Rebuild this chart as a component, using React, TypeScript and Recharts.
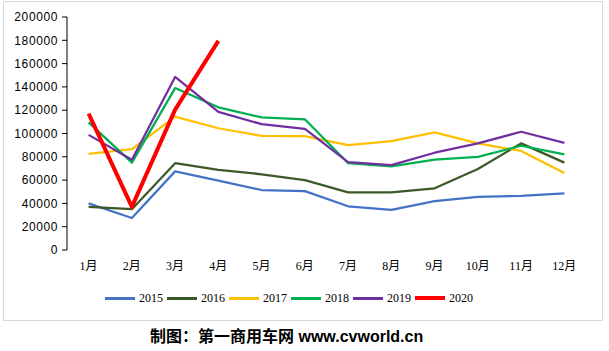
import React from 'react';
import { LineChart, Line, XAxis, YAxis, Legend } from 'recharts';

const months = ['1月', '2月', '3月', '4月', '5月', '6月', '7月', '8月', '9月', '10月', '11月', '12月'];
const s2015 = [40000, 27500, 67500, 59500, 51500, 50500, 37500, 34500, 42000, 45500, 46500, 48500];
const s2016 = [37000, 35000, 74500, 68800, 65000, 60000, 49500, 49500, 53000, 69500, 91500, 75000];
const s2017 = [82500, 86500, 114500, 104500, 98000, 97800, 90000, 93500, 101000, 91500, 85000, 66000];
const s2018 = [109500, 75000, 139000, 122500, 113800, 112200, 74500, 71800, 77500, 80000, 89500, 82000];
const s2019 = [98800, 77500, 148500, 118500, 108000, 104000, 75500, 72800, 83500, 91500, 101500, 92000];
const s2020 = [117000, 37000, 120500, 179500];
const yTicks = [0, 20000, 40000, 60000, 80000, 100000, 120000, 140000, 160000, 180000, 200000];
const caption = '制图：第一商用车网 www.cvworld.cn';

const series = [
  { key: '2015', values: s2015, color: '#4472C4', width: 2.25 },
  { key: '2016', values: s2016, color: '#3B5A28', width: 2.25 },
  { key: '2017', values: s2017, color: '#FFC000', width: 2.25 },
  { key: '2018', values: s2018, color: '#00B050', width: 2.25 },
  { key: '2019', values: s2019, color: '#7030A0', width: 2.25 },
  { key: '2020', values: s2020, color: '#FF0000', width: 4 },
];

const data = months.map((m, i) => {
  const row: Record<string, any> = { x: i + 0.5, month: m };
  series.forEach((s) => {
    if (i < s.values.length) row[s.key] = s.values[i];
  });
  return row;
});

const boundaryTicks = months.map((_, i) => i).concat([months.length]);
const centerTicks = months.map((_, i) => i + 0.5);

const serifFont = '"Liberation Serif", "Noto Sans CJK SC", serif';

const LegendContent = () => (
  <div style={{ display: 'flex', alignItems: 'center', fontFamily: serifFont, fontSize: 12, color: '#000' }}>
    {series.map((s) => (
      <div key={s.key} style={{ display: 'flex', alignItems: 'center', marginRight: 4 }}>
        <div style={{ width: 30, height: s.width >= 4 ? 4 : 3, background: s.color, marginRight: 4 }} />
        <span style={{ lineHeight: '14px' }}>{s.key}</span>
      </div>
    ))}
  </div>
);

export default function App() {
  return (
    <div style={{ position: 'absolute', left: 0, top: 0, width: 609, height: 351, background: '#fff' }}>
      <div
        style={{
          position: 'absolute',
          left: 3,
          top: 1,
          width: 598,
          height: 318,
          border: '1px solid #d9d9d9',
        }}
      />
      <div style={{ position: 'absolute', left: 0, top: 0 }}>
        <LineChart width={609} height={351} data={data} margin={{ top: 17, right: 23, bottom: 71, left: 0 }}>
          <XAxis
            xAxisId="t"
            dataKey="x"
            type="number"
            domain={[0, 12]}
            ticks={boundaryTicks}
            tick={false}
            tickSize={5}
            height={0}
            axisLine={{ stroke: '#000', strokeWidth: 1 }}
            tickLine={{ stroke: '#000', strokeWidth: 1 }}
            interval={0}
          />
          <XAxis
            xAxisId="m"
            dataKey="x"
            type="number"
            domain={[0, 12]}
            ticks={centerTicks}
            tickFormatter={(v: number) => months[Math.floor(v)]}
            axisLine={false}
            tickLine={false}
            tickSize={0}
            tickMargin={11}
            height={30}
            interval={0}
            tick={{ fill: '#000', fontSize: 12, fontFamily: serifFont }}
          />
          <YAxis
            domain={[0, 200000]}
            ticks={yTicks}
            interval={0}
            width={67}
            tickSize={5}
            tickMargin={4}
            axisLine={{ stroke: '#000', strokeWidth: 1 }}
            tickLine={{ stroke: '#000', strokeWidth: 1 }}
            tick={{ fill: '#000', fontSize: 12, fontFamily: '"Liberation Sans", Arial, sans-serif', letterSpacing: 0.6 }}
          />
          {series.map((s) => (
            <Line
              key={s.key}
              xAxisId="m"
              dataKey={s.key}
              stroke={s.color}
              strokeWidth={s.width}
              dot={false}
              activeDot={false}
              isAnimationActive={false}
              strokeLinejoin="round"
              type="linear"
            />
          ))}
          <Legend
            layout="horizontal"
            verticalAlign="middle"
            align="center"
            content={<LegendContent />}
            wrapperStyle={{ top: 291, left: 105, width: 'auto' }}
          />
        </LineChart>
      </div>
      <div
        style={{
          position: 'absolute',
          left: 150,
          top: 327,
          fontSize: 16,
          fontWeight: 'bold',
          fontFamily: '"Liberation Sans", "Noto Sans CJK SC", sans-serif',
          lineHeight: '20px',
          color: '#000',
          whiteSpace: 'nowrap',
        }}
      >
        {caption}
      </div>
    </div>
  );
}
